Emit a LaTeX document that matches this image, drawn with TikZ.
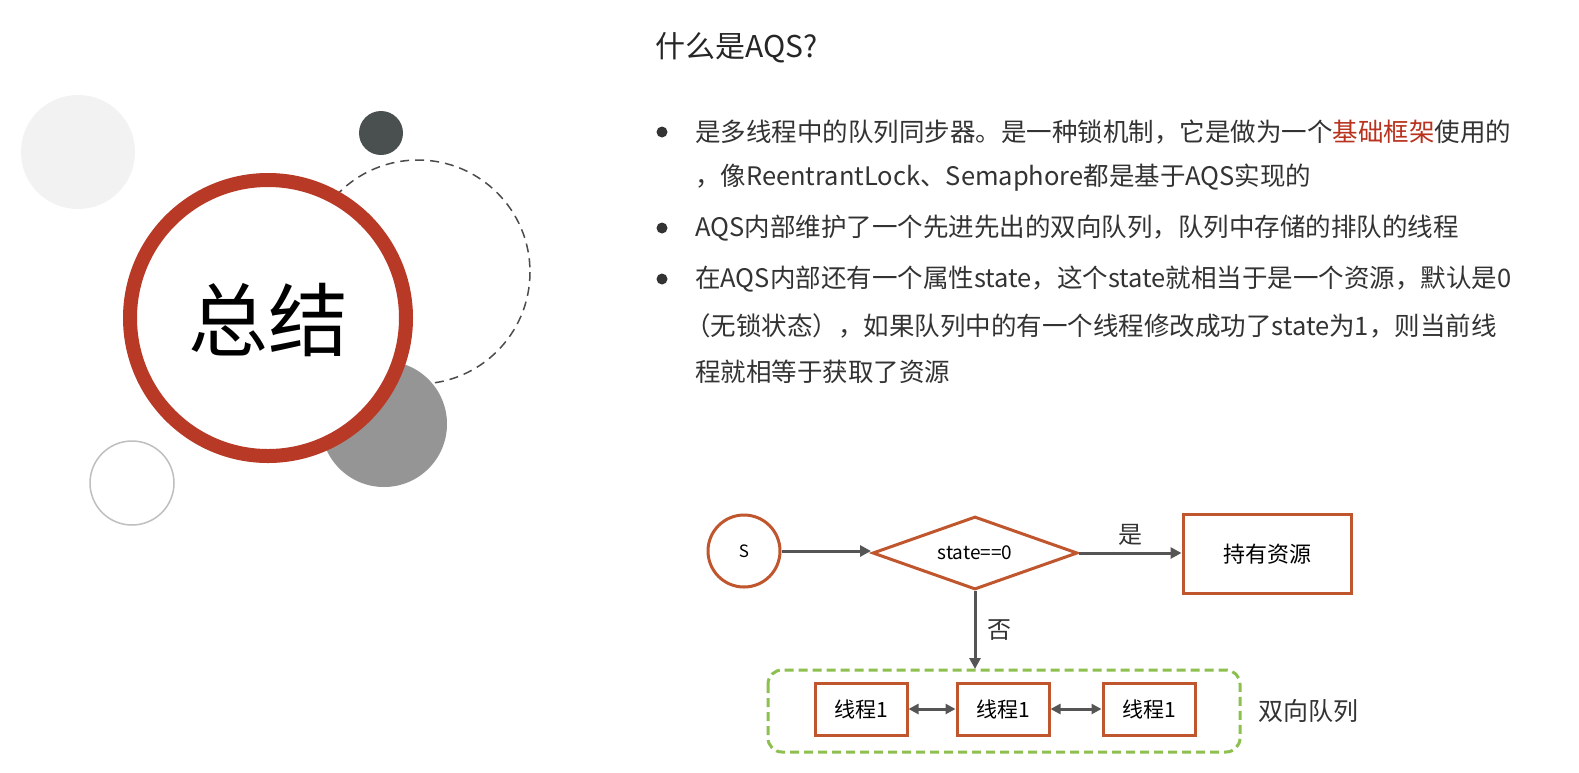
\documentclass[tikz,border=0pt]{standalone}
\usepackage{fontspec}
\setmainfont{Noto Sans CJK SC}
\usetikzlibrary{shapes.geometric,arrows.meta}
\definecolor{ring}{HTML}{B83A26}
\definecolor{ob}{HTML}{C0562E}
\definecolor{gr}{HTML}{8DC04E}
\definecolor{ar}{HTML}{555555}
\definecolor{tx}{HTML}{333333}
\definecolor{kw}{HTML}{B8321E}
\definecolor{dk}{HTML}{4A4F50}
\definecolor{mg}{HTML}{959595}
\tikzset{
 txt/.style={anchor=west,inner sep=0pt,text=tx,font=\fontsize{25.5}{28}\selectfont},
 box/.style={draw=ob,line width=3pt,minimum width=92pt,minimum height=52pt,inner sep=0pt,font=\fontsize{21}{24}\selectfont},
 conn/.style={draw=ar,line width=3pt,-{Triangle[length=11pt,width=11pt]}},
 dconn/.style={draw=ar,line width=3pt,{Triangle[length=10pt,width=10pt]}-{Triangle[length=10pt,width=10pt]}},
 bul/.style={circle,fill=tx,inner sep=0pt,minimum size=11pt},
 lab/.style={font=\fontsize{24}{26}\selectfont,text=tx}
}
\begin{document}
\begin{tikzpicture}[x=1pt,y=-1pt]
\useasboundingbox (0,0) rectangle (1579,772);
\fill[white] (0,0) rectangle (1579,772);
% decorative circles
\fill[black!5] (78,152) circle (57);
\fill[dk] (381,133) circle (22);
\draw[black!70,line width=1.5pt,dash pattern=on 9pt off 6pt] (418,272) circle (112);
\fill[mg] (384,424) circle (63);
\draw[black!25,line width=1.5pt] (132,483) circle (42);
\fill[white] (268,318) circle (138);
\draw[ring,line width=14pt] (268,318) circle (138);
\node[font=\fontsize{80}{82}\selectfont] (zj) at (268,320) {总结};
% text
\node[txt,font=\fontsize{30}{32}\selectfont,text=black!85] (title) at (655,48) {什么是AQS?};
\node[bul] (b1) at (662,132) {};
\node[bul] (b2) at (662,228) {};
\node[bul] (b3) at (662,279) {};
\node[txt] (l1) at (695,132) {是多线程中的队列同步器。是一种锁机制，它是做为一个\textcolor{kw}{基础框架}使用的};
\node[txt] (l2) at (695,178) {，像ReentrantLock、Semaphore都是基于AQS实现的};
\node[txt] (l3) at (695,228) {AQS内部维护了一个先进先出的双向队列，队列中存储的排队的线程};
\node[txt] (l4) at (695,279) {在AQS内部还有一个属性state，这个state就相当于是一个资源，默认是0};
\node[txt] (l5) at (685,326) {（无锁状态），如果队列中的有一个线程修改成功了state为1，则当前线};
\node[txt] (l6) at (695,372) {程就相等于获取了资源};
% flowchart
\node[circle,draw=ob,line width=3pt,minimum size=72pt,inner sep=0pt,font=\fontsize{17}{20}\selectfont] (s) at (744,551) {S};
\node[diamond,draw=ob,line width=3pt,minimum width=205pt,minimum height=73pt,aspect=2.8,inner sep=0pt,font=\fontsize{19}{22}\selectfont] (d) at (975,553) {state==0};
\node[box,minimum width=168pt,minimum height=79pt,font=\fontsize{22}{24}\selectfont] (hold) at (1267,554) {持有资源};
\draw[gr,line width=3pt,dash pattern=on 9pt off 5pt,rounded corners=14pt] (768,670) rectangle (1240,752);
\coordinate (qt) at (975,669);
\node[box] (t1) at (861,709) {线程1};
\node[box] (t2) at (1003,709) {线程1};
\node[box] (t3) at (1149,709) {线程1};
\node[lab,font=\fontsize{25}{28}\selectfont] (q) at (1308,711) {双向队列};
\draw[conn] (s) -- (s.east -| d.west);
\draw[conn] (d.east) -- (d.east -| hold.west) node[midway,above=3pt,lab] (yes) {是};
\draw[conn] (d.south) -- (qt) node[midway,right=8pt,lab] (no) {否};
\draw[dconn] (t1) -- (t2);
\draw[dconn] (t2) -- (t3);
\end{tikzpicture}
\end{document}
